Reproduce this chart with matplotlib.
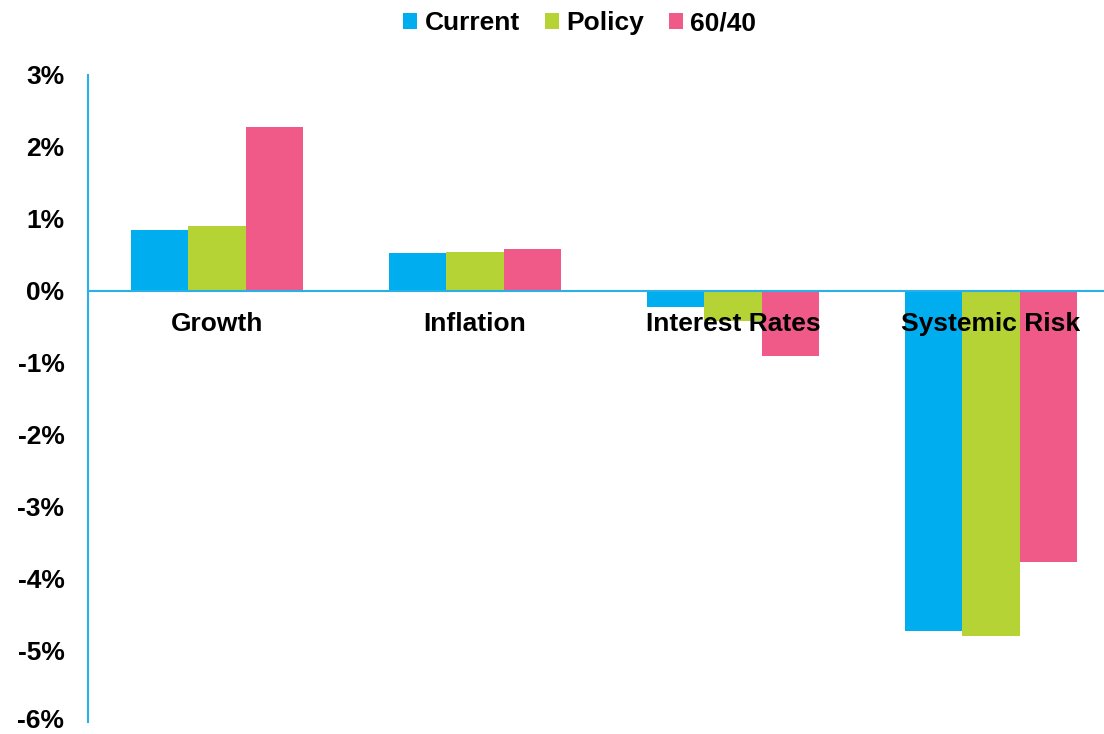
import matplotlib
matplotlib.use("Agg")
import matplotlib.pyplot as plt
import matplotlib.transforms as mtransforms
import numpy as np

categories = ["Growth", "Inflation", "Interest Rates", "Systemic Risk"]
series_names = ["Current", "Policy", "60/40"]
current = [0.85, 0.53, -0.23, -4.73]
policy = [0.90, 0.54, -0.42, -4.80]
sixty_forty = [2.27, 0.58, -0.91, -3.78]
yticks = [3, 2, 1, 0, -1, -2, -3, -4, -5, -6]
ytick_labels = ["3%", "2%", "1%", "0%", "-1%", "-2%", "-3%", "-4%", "-5%", "-6%"]

colors = ["#00AEEF", "#B5D334", "#F05A88"]
axis_color = "#29B0E6"

plt.rcParams['font.family'] = ['Liberation Sans', 'DejaVu Sans']

fig = plt.figure(figsize=(11.04, 7.34), dpi=100)
ax = fig.add_axes([88/1104, 1 - 722/734, 1 - 88/1104, (722 - 75)/734])

x = np.arange(len(categories))
w = 0.223
for i, (vals, name) in enumerate(zip([current, policy, sixty_forty], series_names)):
    ax.bar(x + (i - 1) * w, vals, width=w, color=colors[i], label=name, zorder=2)

ax.set_xlim(-0.5, 3.438)
ax.set_ylim(-6, 3)
ax.axhline(0, color=axis_color, lw=1.5, zorder=3)

for s in ["top", "right", "bottom"]:
    ax.spines[s].set_visible(False)
ax.spines["left"].set_color(axis_color)
ax.spines["left"].set_linewidth(1.5)

ax.set_xticks([])
ax.set_yticks(yticks)
ax.set_yticklabels(ytick_labels, fontsize=19, fontweight="bold")
ax.tick_params(axis="y", length=0, pad=17)
# keep the lowest label fully inside the figure
lowest = ax.get_yticklabels()[-1]
lowest.set_transform(lowest.get_transform() +
                     mtransforms.ScaledTranslation(0, 4/100, fig.dpi_scale_trans))

for xi, c in zip(x, categories):
    ax.annotate(c, (xi, 0), xytext=(0, -24), textcoords="offset points",
                ha="center", va="center", fontsize=19, fontweight="bold",
                zorder=5)

fig.legend(loc="upper center", bbox_to_anchor=(0.525, 1.017), ncol=3, frameon=False,
           prop={"size": 19, "weight": "bold"}, handlelength=0.53, handleheight=0.53,
           handletextpad=0.27, columnspacing=0.95)

fig.savefig("out.png", dpi=100)
